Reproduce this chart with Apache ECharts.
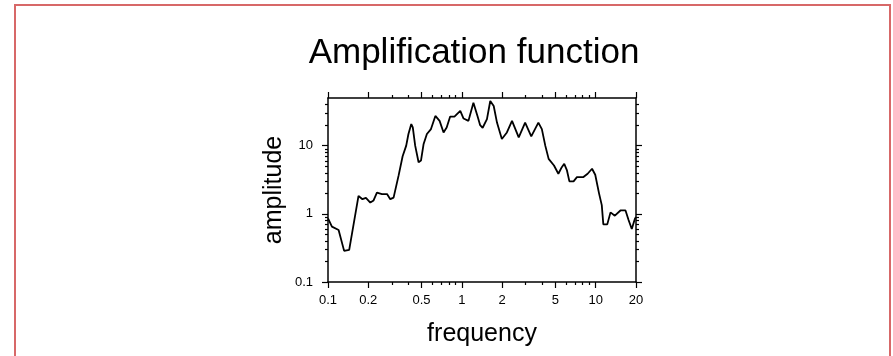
<!DOCTYPE html>
<html><head><meta charset="utf-8">
<script src="https://cdn.jsdelivr.net/npm/echarts@6/dist/echarts.min.js"></script>
<style>
html,body{margin:0;padding:0;background:#fff;}
#wrap{position:relative;width:893px;height:356px;overflow:hidden;}
#c{width:893px;height:356px;}
#b{position:absolute;left:14px;top:4px;width:873px;height:400px;border:2px solid #d76868;pointer-events:none;}
</style>
</head><body>
<div id="wrap"><div id="c"></div><div id="b"></div></div>
<script>
const frequency = [0.1, 0.107, 0.12, 0.132, 0.144, 0.169, 0.181, 0.192, 0.207, 0.219, 0.232, 0.253, 0.276, 0.292, 0.309, 0.337, 0.361, 0.384, 0.399, 0.419, 0.43, 0.448, 0.475, 0.495, 0.518, 0.548, 0.588, 0.634, 0.682, 0.73, 0.77, 0.818, 0.88, 0.973, 1.03, 1.12, 1.22, 1.31, 1.37, 1.43, 1.54, 1.63, 1.73, 1.83, 1.99, 2.17, 2.37, 2.66, 2.97, 3.3, 3.73, 3.96, 4.2, 4.45, 4.88, 5.26, 5.58, 5.82, 6.1, 6.36, 6.83, 7.24, 8.1, 8.7, 9.39, 9.92, 10.6, 11.1, 11.4, 12.2, 12.9, 13.9, 15.3, 16.7, 17.6, 18.6, 19.6, 20];
const amplitude = [0.86, 0.65, 0.58, 0.286, 0.296, 1.83, 1.64, 1.71, 1.46, 1.57, 2.05, 1.95, 1.95, 1.64, 1.73, 3.66, 7.0, 10, 14.8, 20.7, 18.5, 10, 5.71, 6.05, 10.6, 14.8, 17.5, 27.3, 23.1, 15.6, 18.5, 26.7, 26.7, 32.3, 25, 23.1, 42.7, 27, 20, 18.3, 24.5, 45.2, 38.2, 21.8, 12.5, 15.6, 23.1, 13.2, 21.8, 13.7, 21.8, 17.5, 10, 6.4, 5.11, 3.87, 4.83, 5.42, 4.33, 2.99, 2.99, 3.46, 3.46, 3.87, 4.58, 3.74, 1.98, 1.34, 0.70, 0.70, 1.05, 0.94, 1.12, 1.12, 0.81, 0.60, 0.84, 0.9];
const xMajorTicks = [0.1, 0.2, 0.5, 1, 2, 5, 10, 20];
const xMinorTicks = [0.3, 0.4, 0.6, 0.7, 0.8, 0.9, 3, 4, 6, 7, 8, 9];
const yMajorTicks = [0.1, 1, 10];
const yMinorTicks = [0.2, 0.3, 0.4, 0.5, 0.6, 0.7, 0.8, 0.9, 2, 3, 4, 5, 6, 7, 8, 9, 20, 30, 40];
const titleText = 'Amplification function';
const xName = 'frequency';
const yName = 'amplitude';

const FONT = '"Liberation Sans", Arial, Helvetica, sans-serif';
const fmt = v => String(+Number(v).toPrecision(3));

function makeAxis(kind, pos, ticks, len, showLine, showLabel, extra) {
  const ax = {
    type: 'log', logBase: 10,
    min: 0.1,
    max: kind === 'x' ? 20 : 50,
    position: pos,
    axisLine: { show: showLine, lineStyle: { color: '#000', width: 1.5 } },
    axisTick: { show: true, inside: false, length: len, customValues: ticks, lineStyle: { color: '#000', width: 1.2 } },
    axisLabel: showLabel ? { show: true, customValues: ticks, color: '#000', fontSize: 13, fontFamily: FONT, formatter: fmt, margin: kind === 'x' ? 12 : 15 } : { show: false },
    splitLine: { show: false },
    minorTick: { show: false },
    minorSplitLine: { show: false }
  };
  return Object.assign(ax, extra || {});
}

const chart = echarts.init(document.getElementById('c'), null, { renderer: 'canvas' });
chart.setOption({
  animation: false,
  backgroundColor: 'transparent',
  title: {
    text: titleText, left: 469, top: 31, textAlign: 'center',
    textStyle: { fontSize: 35, fontWeight: 'normal', color: '#000', fontFamily: FONT }
  },
  grid: { left: 328, top: 98, width: 308, height: 184, containLabel: false },
  xAxis: [
    makeAxis('x', 'bottom', xMajorTicks, 6, true, true, {
      name: xName, nameLocation: 'middle', nameGap: 40,
      nameTextStyle: { fontSize: 25, color: '#000', fontFamily: FONT }
    }),
    makeAxis('x', 'bottom', xMinorTicks, 3, false, false),
    makeAxis('x', 'top', xMajorTicks, 6, true, false),
    makeAxis('x', 'top', xMinorTicks, 3, false, false)
  ],
  yAxis: [
    makeAxis('y', 'left', yMajorTicks, 6, true, true, {
      name: yName, nameLocation: 'middle', nameGap: 41,
      nameTextStyle: { fontSize: 25, color: '#000', fontFamily: FONT }
    }),
    makeAxis('y', 'left', yMinorTicks, 3, false, false),
    makeAxis('y', 'right', yMajorTicks, 6, true, false),
    makeAxis('y', 'right', yMinorTicks, 3, false, false)
  ],
  series: [{
    type: 'line',
    xAxisIndex: 0, yAxisIndex: 0,
    data: frequency.map((f, i) => [f, amplitude[i]]),
    showSymbol: false,
    symbol: 'none',
    lineStyle: { color: '#000', width: 1.8 },
    clip: true
  }]
});
</script>
</body></html>
